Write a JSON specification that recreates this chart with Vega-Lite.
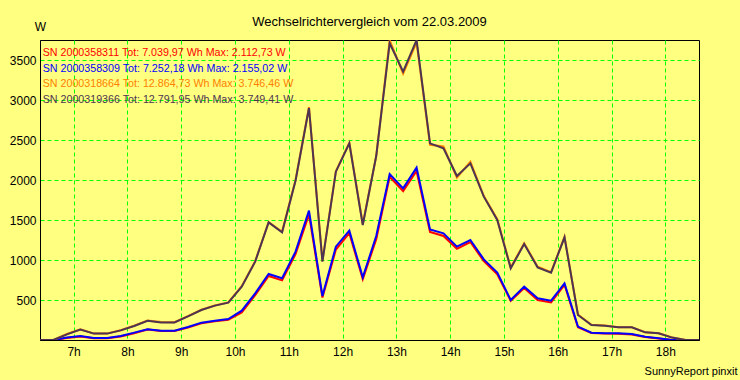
{
  "$schema": "https://vega.github.io/schema/vega-lite/v6.json",
  "width": 659,
  "height": 300,
  "autosize": {"type": "none"},
  "padding": {"left": 40, "top": 40, "right": 41, "bottom": 40},
  "background": "#FFFF80",
  "title": {"text": "Wechselrichtervergleich vom 22.03.2009", "frame": "group", "anchor": "middle", "offset": -18.5, "baseline": "alphabetic", "fontSize": 13, "fontWeight": "normal", "font": "Liberation Sans", "color": "#000000"},
  "config": {"view": {"stroke": "#000000", "strokeWidth": 1}, "font": "Liberation Sans"},
  "data": {"values": [
    {"t": 6.375, "r": 0, "b": 0, "o": 0, "d": 0},
    {"t": 6.625, "r": 0, "b": 0, "o": 0, "d": 0},
    {"t": 6.875, "r": 25, "b": 30, "o": 75, "d": 70},
    {"t": 7.125, "r": 45, "b": 50, "o": 135, "d": 130},
    {"t": 7.375, "r": 22, "b": 25, "o": 82, "d": 80},
    {"t": 7.625, "r": 22, "b": 25, "o": 82, "d": 80},
    {"t": 7.875, "r": 45, "b": 50, "o": 122, "d": 120},
    {"t": 8.125, "r": 85, "b": 92, "o": 178, "d": 175},
    {"t": 8.375, "r": 130, "b": 135, "o": 245, "d": 240},
    {"t": 8.625, "r": 112, "b": 117, "o": 225, "d": 220},
    {"t": 8.875, "r": 112, "b": 117, "o": 222, "d": 220},
    {"t": 9.125, "r": 155, "b": 162, "o": 298, "d": 295},
    {"t": 9.375, "r": 208, "b": 217, "o": 378, "d": 375},
    {"t": 9.625, "r": 233, "b": 242, "o": 432, "d": 430},
    {"t": 9.875, "r": 252, "b": 262, "o": 470, "d": 467},
    {"t": 10.125, "r": 345, "b": 367, "o": 672, "d": 667},
    {"t": 10.375, "r": 560, "b": 583, "o": 985, "d": 980},
    {"t": 10.625, "r": 800, "b": 825, "o": 1475, "d": 1470},
    {"t": 10.875, "r": 745, "b": 771, "o": 1352, "d": 1346},
    {"t": 11.125, "r": 1075, "b": 1104, "o": 2000, "d": 1990},
    {"t": 11.375, "r": 1570, "b": 1617, "o": 2910, "d": 2900},
    {"t": 11.625, "r": 530, "b": 550, "o": 990, "d": 980},
    {"t": 11.875, "r": 1130, "b": 1167, "o": 2110, "d": 2104},
    {"t": 12.125, "r": 1335, "b": 1367, "o": 2465, "d": 2458},
    {"t": 12.375, "r": 760, "b": 783, "o": 1450, "d": 1437},
    {"t": 12.625, "r": 1260, "b": 1300, "o": 2300, "d": 2300},
    {"t": 12.875, "r": 2040, "b": 2075, "o": 3746, "d": 3710},
    {"t": 13.125, "r": 1860, "b": 1896, "o": 3330, "d": 3354},
    {"t": 13.375, "r": 2113, "b": 2155, "o": 3720, "d": 3749},
    {"t": 13.625, "r": 1350, "b": 1383, "o": 2440, "d": 2458},
    {"t": 13.875, "r": 1300, "b": 1333, "o": 2420, "d": 2396},
    {"t": 14.125, "r": 1140, "b": 1167, "o": 2030, "d": 2050},
    {"t": 14.375, "r": 1225, "b": 1250, "o": 2230, "d": 2208},
    {"t": 14.625, "r": 985, "b": 1008, "o": 1800, "d": 1792},
    {"t": 14.875, "r": 820, "b": 842, "o": 1510, "d": 1500},
    {"t": 15.125, "r": 490, "b": 500, "o": 905, "d": 896},
    {"t": 15.375, "r": 650, "b": 667, "o": 1210, "d": 1200},
    {"t": 15.625, "r": 500, "b": 521, "o": 915, "d": 908},
    {"t": 15.875, "r": 470, "b": 492, "o": 848, "d": 842},
    {"t": 16.125, "r": 690, "b": 708, "o": 1290, "d": 1283},
    {"t": 16.375, "r": 160, "b": 167, "o": 318, "d": 313},
    {"t": 16.625, "r": 88, "b": 92, "o": 190, "d": 188},
    {"t": 16.875, "r": 80, "b": 83, "o": 180, "d": 179},
    {"t": 17.125, "r": 78, "b": 83, "o": 160, "d": 158},
    {"t": 17.375, "r": 70, "b": 75, "o": 160, "d": 158},
    {"t": 17.625, "r": 38, "b": 42, "o": 98, "d": 96},
    {"t": 17.875, "r": 18, "b": 21, "o": 85, "d": 83},
    {"t": 18.125, "r": 0, "b": 0, "o": 32, "d": 30},
    {"t": 18.375, "r": 0, "b": 0, "o": 0, "d": 0},
    {"t": 18.625, "r": 0, "b": 0, "o": 0, "d": 0}
  ]},
  "transform": [{"fold": ["r", "b", "o", "d"], "as": ["s", "v"]}],
  "mark": {"type": "line", "strokeWidth": 2, "interpolate": "linear", "clip": true},
  "encoding": {
    "x": {
      "field": "t", "type": "quantitative",
      "scale": {"domain": [6.375, 18.625], "nice": false, "zero": false},
      "axis": {
        "values": [7, 8, 9, 10, 11, 12, 13, 14, 15, 16, 17, 18],
        "labelExpr": "datum.value + 'h'",
        "ticks": false, "domain": true, "domainColor": "#000000",
        "grid": true, "gridColor": "#00FF00", "gridDash": [4, 3], "gridWidth": 1, "gridOpacity": 1,
        "labelFontSize": 12, "labelColor": "#000000", "labelPadding": 6, "labelFont": "Liberation Sans", "labelFlush": false, "labelOverlap": false,
        "title": "SunnyReport pinxit", "titleX": 697, "titleY": 31, "titleAlign": "right", "titleBaseline": "middle",
        "titleFontSize": 11, "titleFontWeight": "normal", "titleColor": "#000000", "titleFont": "Liberation Sans"
      }
    },
    "y": {
      "field": "v", "type": "quantitative",
      "scale": {"domain": [0, 3750], "nice": false},
      "axis": {
        "values": [500, 1000, 1500, 2000, 2500, 3000, 3500],
        "format": "d",
        "ticks": false, "domain": true, "domainColor": "#000000",
        "grid": true, "gridColor": "#00FF00", "gridDash": [4, 3], "gridWidth": 1, "gridOpacity": 1,
        "labelFontSize": 12, "labelColor": "#000000", "labelPadding": 4, "labelFont": "Liberation Sans", "labelOverlap": false, "labelFlush": false,
        "title": "W", "titleAngle": 0, "titleX": 0, "titleY": -14, "titleAlign": "center", "titleBaseline": "middle",
        "titleFontSize": 12, "titleFontWeight": "normal", "titleColor": "#000000", "titleFont": "Liberation Sans"
      }
    },
    "color": {
      "field": "s", "type": "nominal",
      "scale": {"domain": ["r", "b", "o", "d"], "range": ["#FF0000", "#0000FF", "#FF8000", "#4D3552"]},
      "legend": {
        "orient": "none", "legendX": -8, "legendY": 7.5, "title": null,
        "symbolOpacity": 0, "symbolSize": 0, "symbolStrokeWidth": 0, "labelOffset": 0,
        "labelFontSize": 10.7, "labelFont": "Liberation Sans", "labelLimit": 400, "rowPadding": 3.8, "padding": 0,
        "labelExpr": "datum.value == 'r' ? 'SN 2000358311 Tot: 7.039,97 Wh Max: 2.112,73 W' : datum.value == 'b' ? 'SN 2000358309 Tot: 7.252,18 Wh Max: 2.155,02 W' : datum.value == 'o' ? 'SN 2000318664 Tot: 12.864,73 Wh Max: 3.746,46 W' : 'SN 2000319366 Tot: 12.791,95 Wh Max: 3.749,41 W'",
        "encode": {"labels": {"update": {"fill": {"scale": "color", "field": "value"}}}}
      }
    }
  }
}
